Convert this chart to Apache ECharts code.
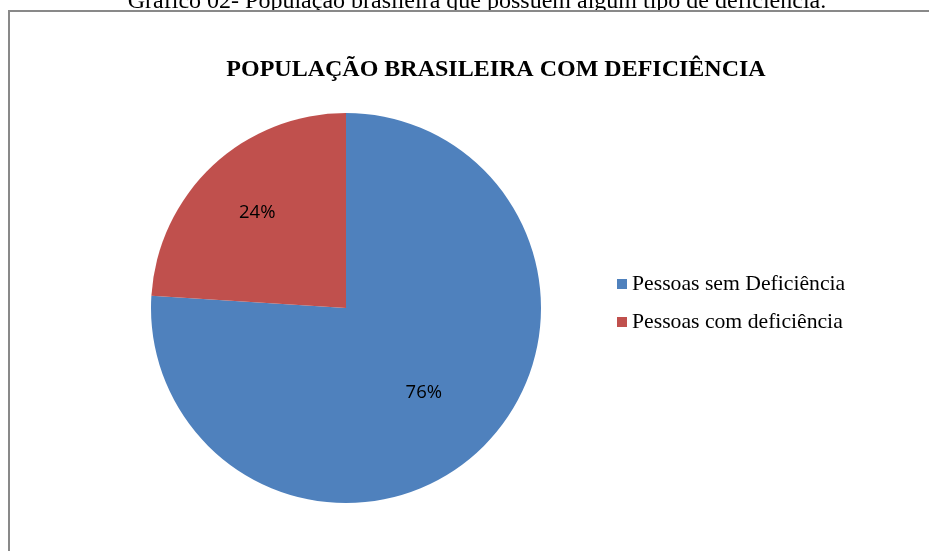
<!DOCTYPE html>
<html>
<head>
<meta charset="utf-8">
<script src="https://cdn.jsdelivr.net/npm/echarts@6/dist/echarts.min.js"></script>
<style>
html, body { margin: 0; padding: 0; background: #fff; }
#main { width: 929px; height: 551px; }
</style>
</head>
<body>
<div id="main"></div>
<script>
// dados do gráfico
var categorias = ['Pessoas sem Deficiência', 'Pessoas com deficiência'];
var valores = [76, 24];
var cores = ['#4F81BD', '#C0504D'];

var myChart = echarts.init(document.getElementById('main'));

var dados = [];
for (var i = 0; i < categorias.length; i++) {
	dados.push({ name: categorias[i], value: valores[i], itemStyle: { color: cores[i] } });
}
// deslocamento dos rótulos como no Excel
dados[0].label = { offset: [9, 11] };
dados[1].label = { offset: [-20, -22] };

var option = {
	animation: false,
	title: {
		text: 'POPULAÇÃO BRASILEIRA COM DEFICIÊNCIA',
		left: 491,
		top: 53,
		textAlign: 'center',
		textStyle: {
			fontFamily: 'Liberation Serif',
			fontWeight: 'bold',
			fontSize: 24,
			color: '#000'
		}
	},
	graphic: [
		{
			type: 'text',
			x: 477,
			y: -10,
			z: 1,
			style: {
				text: 'Gráfico 02- População brasileira que possuem algum tipo de deficiência.',
				font: '24px "Liberation Serif"',
				fill: '#000',
				textAlign: 'center',
				textVerticalAlign: 'top'
			}
		},
		{
			type: 'rect',
			z: 2,
			shape: { x: 9, y: 11, width: 940, height: 560 },
			style: { fill: '#fff', stroke: '#898989', lineWidth: 2 }
		}
	],
	legend: {
		orient: 'vertical',
		left: 612,
		top: 268,
		itemWidth: 10,
		itemHeight: 10,
		itemGap: 16,
		icon: 'rect',
		data: categorias,
		textStyle: {
			fontFamily: 'Liberation Serif',
			fontSize: 21.7,
			color: '#000'
		}
	},
	series: [
		{
			type: 'pie',
			center: [346, 308],
			radius: [0, 195],
			startAngle: 90,
			clockwise: true,
			data: dados,
			label: {
				show: true,
				position: 'inside',
				formatter: '{d}%',
				fontFamily: 'Open Sans',
				fontSize: 18.5,
				color: '#000'
			},
			labelLine: { show: false },
			emphasis: { disabled: true }
		}
	]
};
myChart.setOption(option);
</script>
</body>
</html>
